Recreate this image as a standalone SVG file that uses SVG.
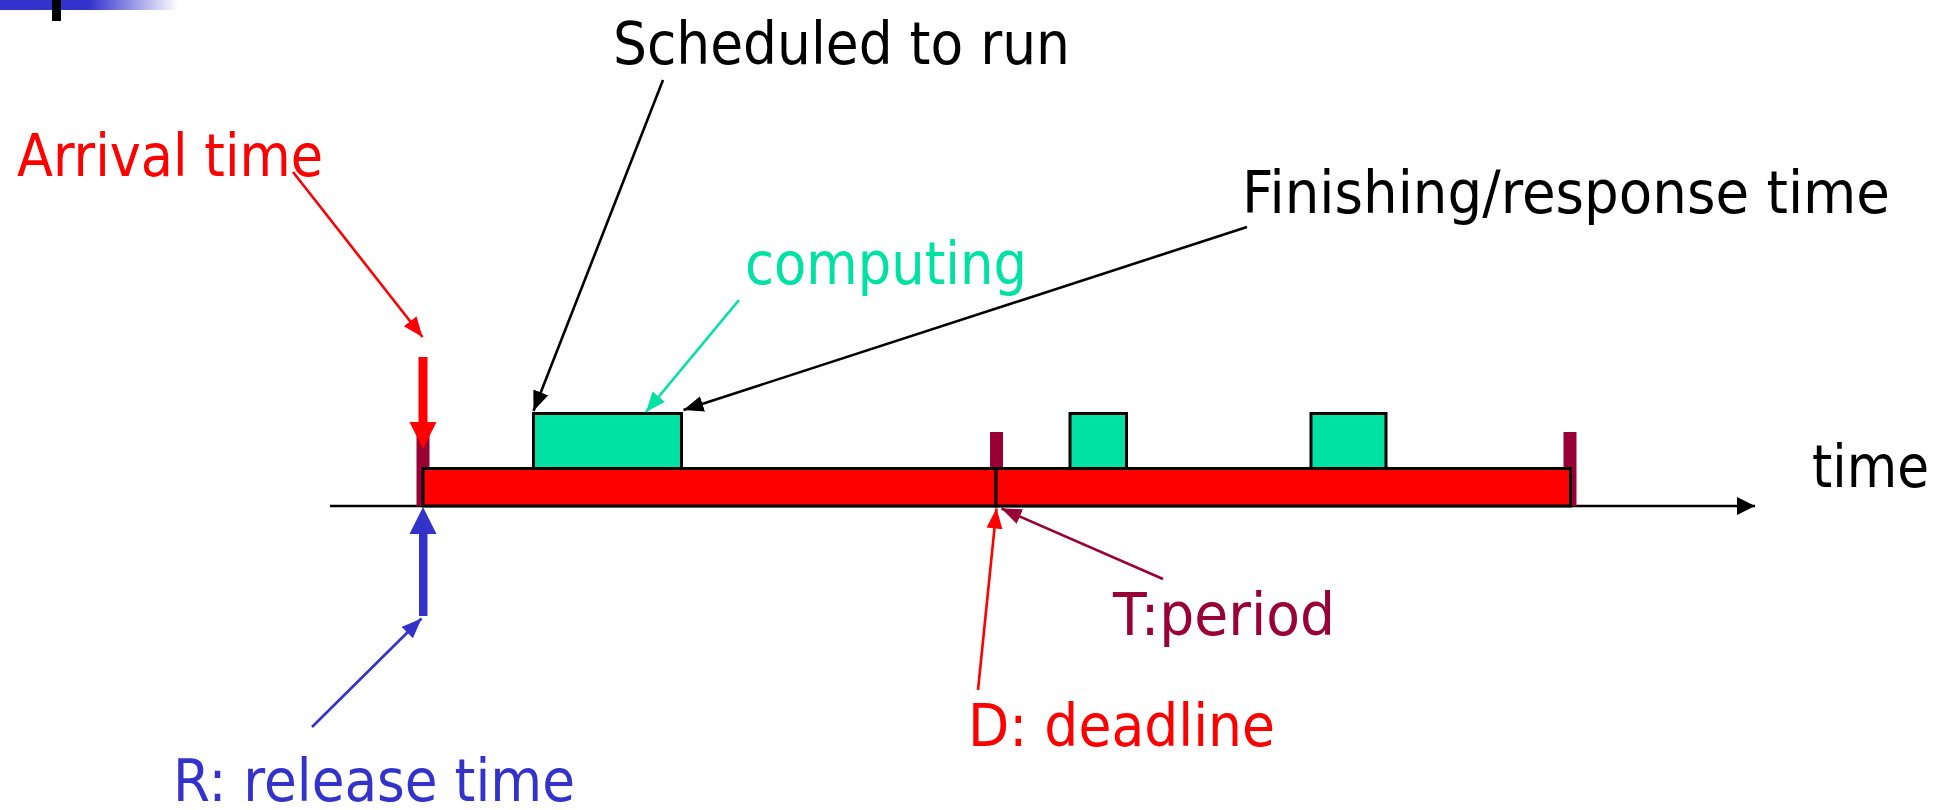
<svg xmlns="http://www.w3.org/2000/svg" width="1941" height="810" viewBox="0 0 1941 810">
  <style>
    .lbl { font-family: "DejaVu Sans", "Liberation Sans", sans-serif; font-size: 59px; }
    .red { fill: #FF0000; }
    .blue { fill: #3333CC; }
    .maroon { fill: #990033; }
    .green { fill: #00E1A4; }
    .black { fill: #000000; }
    .bar { fill: #FF0000; stroke: #000000; stroke-width: 3; }
    .run { fill: #00E1A4; stroke: #000000; stroke-width: 3; }
    .tick { fill: #990033; }
    .lead { fill: none; stroke-width: 2.6; }
  </style>
  <defs>
    <linearGradient id="band" x1="0" y1="0" x2="1" y2="0">
      <stop offset="0" stop-color="#3333CC"/>
      <stop offset="0.5" stop-color="#3333CC"/>
      <stop offset="1" stop-color="#3333CC" stop-opacity="0"/>
    </linearGradient>
    <marker id="ah-red" markerUnits="userSpaceOnUse" markerWidth="22" markerHeight="18" refX="20" refY="8" orient="auto">
      <path d="M0,0 L20,8 L0,16 z" fill="#FF0000"/>
    </marker>
    <marker id="ah-blue" markerUnits="userSpaceOnUse" markerWidth="22" markerHeight="18" refX="20" refY="8" orient="auto">
      <path d="M0,0 L20,8 L0,16 z" fill="#3333CC"/>
    </marker>
    <marker id="ah-black" markerUnits="userSpaceOnUse" markerWidth="22" markerHeight="18" refX="20" refY="8" orient="auto">
      <path d="M0,0 L20,8 L0,16 z" fill="#000000"/>
    </marker>
    <marker id="ah-green" markerUnits="userSpaceOnUse" markerWidth="22" markerHeight="18" refX="20" refY="8" orient="auto">
      <path d="M0,0 L20,8 L0,16 z" fill="#00E1A4"/>
    </marker>
    <marker id="ah-maroon" markerUnits="userSpaceOnUse" markerWidth="22" markerHeight="18" refX="20" refY="8" orient="auto">
      <path d="M0,0 L20,8 L0,16 z" fill="#990033"/>
    </marker>
    <marker id="ah-axis" markerUnits="userSpaceOnUse" markerWidth="20" markerHeight="20" refX="18" refY="9" orient="auto">
      <path d="M0,0 L18,9 L0,18 z" fill="#000000"/>
    </marker>
  </defs>

  <rect width="1941" height="810" fill="#FFFFFF"/>

  <!-- slide header accent -->
  <g id="header-accent">
    <rect x="0" y="0" width="178" height="10" fill="url(#band)"/>
    <rect x="52" y="0" width="9" height="21" fill="#000000"/>
  </g>

  <!-- time axis -->
  <g id="axis">
    <line x1="330" y1="506" x2="1755" y2="506" stroke="#000000" stroke-width="2.5" marker-end="url(#ah-axis)"/>
    <text class="lbl black" x="1812" y="487" textLength="117" lengthAdjust="spacingAndGlyphs">time</text>
  </g>

  <!-- period boundary ticks -->
  <g id="period-ticks">
    <rect class="tick" x="416.5" y="432" width="13" height="74"/>
    <rect class="tick" x="990" y="432" width="13" height="74"/>
    <rect class="tick" x="1563.5" y="432" width="13" height="74"/>
  </g>

  <!-- two task periods -->
  <g id="period-1">
    <rect class="bar" x="423" y="468.5" width="573" height="37.5"/>
  </g>
  <g id="period-2">
    <rect class="bar" x="996" y="468.5" width="574.5" height="37.5"/>
  </g>

  <!-- execution slices -->
  <g id="run-1">
    <rect class="run" x="533.5" y="413.5" width="148" height="55"/>
  </g>
  <g id="run-2">
    <rect class="run" x="1070" y="413.5" width="56.5" height="55"/>
  </g>
  <g id="run-3">
    <rect class="run" x="1311" y="413.5" width="75" height="55"/>
  </g>

  <!-- labels -->
  <g id="label-arrival">
    <text class="lbl red" x="17" y="176" textLength="306" lengthAdjust="spacingAndGlyphs">Arrival time</text>
  </g>
  <g id="label-scheduled">
    <text class="lbl black" x="613" y="64" textLength="457" lengthAdjust="spacingAndGlyphs">Scheduled to run</text>
  </g>
  <g id="label-finishing">
    <text class="lbl black" x="1242" y="213" textLength="648" lengthAdjust="spacingAndGlyphs">Finishing/response time</text>
  </g>
  <g id="label-computing">
    <text class="lbl green" x="745" y="284" textLength="282" lengthAdjust="spacingAndGlyphs">computing</text>
  </g>
  <g id="label-period">
    <text class="lbl maroon" x="1113" y="635" textLength="222" lengthAdjust="spacingAndGlyphs">T:period</text>
  </g>
  <g id="label-deadline">
    <text class="lbl red" x="968" y="746" textLength="307" lengthAdjust="spacingAndGlyphs">D: deadline</text>
  </g>
  <g id="label-release">
    <text class="lbl blue" x="173" y="801" textLength="402" lengthAdjust="spacingAndGlyphs">R: release time</text>
  </g>

  <!-- connectors -->
  <g id="connectors">
    <!-- arrival marker on the axis -->
    <rect class="red" x="418.5" y="357" width="9" height="66"/>
    <polygon class="red" points="409.5,422 436.5,422 423,449"/>
    <!-- release marker on the axis -->
    <rect class="blue" x="419" y="532" width="8.5" height="84"/>
    <polygon class="blue" points="409.5,534 436.5,534 423,507"/>

    <line class="lead" stroke="#FF0000" x1="293" y1="172" x2="422.5" y2="337" marker-end="url(#ah-red)"/>
    <line class="lead" stroke="#3333CC" x1="312" y1="727" x2="421.5" y2="618.5" marker-end="url(#ah-blue)"/>
    <line class="lead" stroke="#000000" x1="663" y1="80" x2="533.5" y2="411" marker-end="url(#ah-black)"/>
    <line class="lead" stroke="#00E1A4" x1="739" y1="300" x2="646" y2="412" marker-end="url(#ah-green)"/>
    <line class="lead" stroke="#000000" x1="1247" y1="227" x2="683.5" y2="410" marker-end="url(#ah-black)"/>
    <line class="lead" stroke="#FF0000" x1="978" y1="690" x2="996.5" y2="508.5" marker-end="url(#ah-red)"/>
    <line class="lead" stroke="#990033" x1="1163" y1="579" x2="1001.5" y2="508.5" marker-end="url(#ah-maroon)"/>
  </g>
</svg>
